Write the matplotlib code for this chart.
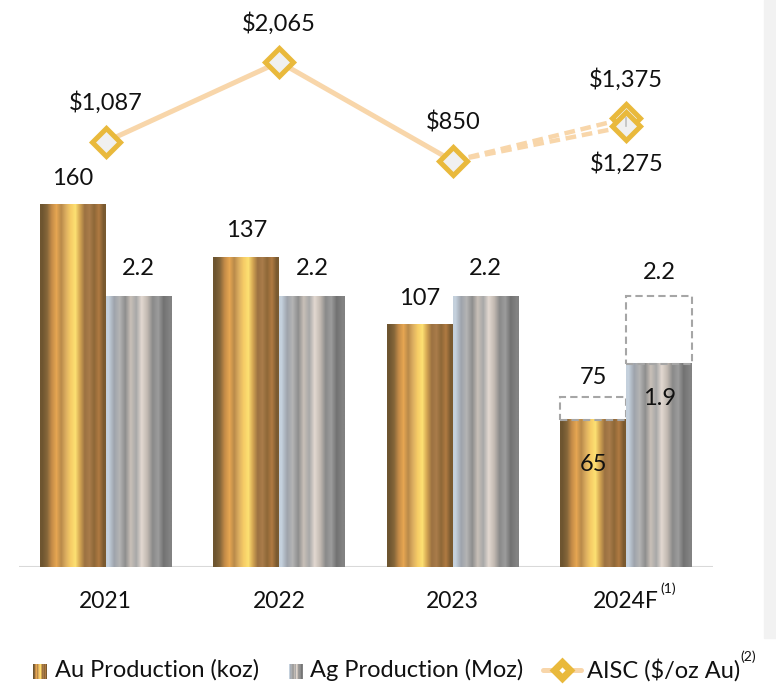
import numpy as np
import matplotlib.pyplot as plt
from matplotlib.colors import to_rgb
from matplotlib.patches import Rectangle
from matplotlib.lines import Line2D

plt.rcParams['font.family'] = ['Lato', 'DejaVu Sans']

# production and cost figures
years = ["2021", "2022", "2023", "2024F"]
au_koz = [160, 137, 107, 65]
au_koz_forecast = 75
ag_moz = [2.2, 2.2, 2.2, 1.9]
ag_moz_forecast = 2.2
aisc = [1087, 2065, 850]
aisc_2024 = [1375, 1275]

# metallic stripe palettes for the bar fills
gold_stripes = ["#6e5530", "#85663a", "#c48c48", "#e6a652", "#b98a4a", "#dcae60",
                "#f6cc66", "#fde072", "#d2a452", "#9c7242", "#a97c4a", "#8e6838",
                "#b07a42", "#7a5a30"]
silver_stripes = ["#c4d0dc", "#9ea4ac", "#b4b4b4", "#8e8e8e", "#c8c0b8", "#a8a8a8",
                  "#e2d8d0", "#c2bab2", "#8a8a8a", "#9c9c9c", "#727272", "#828282"]
line_color = "#f8d6aa"
marker_edge = "#e9b93c"
marker_face = "#f0f0f0"


def stripe_image(colors):
    return np.array([[to_rgb(c) for c in colors]])


gold_img = stripe_image(gold_stripes)
silver_img = stripe_image(silver_stripes)

W, H = 776, 684
fig = plt.figure(figsize=(W / 100, H / 100), dpi=100)
rect = [19 / W, (H - 567) / H, 694 / W, 567 / H]
ax = fig.add_axes(rect)          # gold, koz
ax2 = fig.add_axes(rect, sharex=ax)   # silver, Moz
ax3 = fig.add_axes(rect, sharex=ax)   # AISC
for a in (ax, ax2, ax3):
    a.patch.set_visible(False)
    for s in a.spines.values():
        s.set_visible(False)
    a.set_yticks([])

x = np.arange(len(years))
bw = 0.38

for i, v in enumerate(au_koz):
    ax.imshow(gold_img, extent=[x[i] - bw, x[i], 0, v], aspect='auto',
              interpolation='bilinear', zorder=2)
for i, v in enumerate(ag_moz):
    ax2.imshow(silver_img, extent=[x[i], x[i] + bw, 1.0, v], aspect='auto',
               interpolation='bilinear', zorder=2)

# forecast range boxes for 2024
ax.add_patch(Rectangle((x[3] - bw, au_koz[3]), bw, au_koz_forecast - au_koz[3],
                       fill=False, ec="#a6a6a6", lw=1.5, ls=(0, (3.5, 2)), zorder=3))
ax2.add_patch(Rectangle((x[3], ag_moz[3]), bw, ag_moz_forecast - ag_moz[3],
                        fill=False, ec="#a6a6a6", lw=1.5, ls=(0, (3.5, 2)), zorder=3))

ax.axhline(0, color="#d9d9d9", lw=1.5, zorder=1)

ax.set_xlim(-0.5, 3.5)
ax.set_ylim(0, 250.6)
ax2.set_ylim(1.0, 3.511)
ax3.set_ylim(-4133, 2826)

fs = 17
lab = dict(ha='center', va='center', fontsize=fs, color='#111111',
           textcoords='offset points')
for i, v in enumerate(au_koz[:3]):
    ax.annotate(f"{v}", (x[i] - bw / 2, v), xytext=(0, 19), **lab)
for i, v in enumerate(ag_moz[:3]):
    ax2.annotate(f"{v}", (x[i] + bw / 2, v), xytext=(0, 20), **lab)
ax.annotate(f"{au_koz_forecast}", (x[3] - bw / 2, au_koz_forecast), xytext=(0, 14), **lab)
ax.annotate(f"{au_koz[3]}", (x[3] - bw / 2, au_koz[3]), xytext=(0, -32), **lab)
ax2.annotate(f"{ag_moz_forecast}", (x[3] + bw / 2, ag_moz_forecast), xytext=(0, 17), **lab)
ax2.annotate(f"{ag_moz[3]}", (x[3] + bw / 2, ag_moz[3]), xytext=(0, -25), **lab)

# AISC line with dashed forecast range
mk = dict(marker='D', ms=14, mfc=marker_face, mec=marker_edge, mew=3.6)
ax3.plot(x[:3], aisc, color=line_color, lw=3.6, solid_capstyle='round', zorder=4)
for v in aisc_2024:
    ax3.plot([x[2], x[3]], [aisc[2], v], color=line_color, lw=3.2,
             ls=(0, (2.4, 1.3)), zorder=4)
ax3.plot(x[:3], aisc, ls='none', zorder=5, **mk)
for v in aisc_2024:
    ax3.plot([x[3]], [v], ls='none', zorder=5, **mk)
ax3.plot([x[3], x[3]], aisc_2024, color="#bfbfbf", lw=1.2, zorder=6)

for i, v in enumerate(aisc):
    ax3.annotate(f"${v:,}", (x[i], v), xytext=(0, 28), **lab)
ax3.annotate(f"${aisc_2024[0]:,}", (x[3], aisc_2024[0]), xytext=(0, 28), **lab)
ax3.annotate(f"${aisc_2024[1]:,}", (x[3], aisc_2024[1]), xytext=(0, -27), **lab)

# category labels
for a in (ax2, ax3):
    a.tick_params(axis='x', bottom=False, labelbottom=False)
ax.set_xticks(x)
ax.set_xticklabels(years, fontsize=16.5, color='#111111')
ax.tick_params(axis='x', length=0, pad=17)
fig.text(668 / W, 1 - 589 / H, "(1)", fontsize=10, ha='center', va='center', color='#111111')

# grey strip down the right edge
fig.add_artist(Rectangle((764 / W, 1 - 638 / H), 12 / W, 638 / H,
                         transform=fig.transFigure, color="#f2f2f2", zorder=0))

# legend
lfs = 17
ly = 1 - 670 / H
for x0, img in ((33, gold_img), (289, silver_img)):
    sw = fig.add_axes([x0 / W, (H - 679) / H, 14 / W, 15 / H])
    sw.imshow(img, aspect='auto', interpolation='bilinear')
    sw.axis('off')
fig.text(55 / W, ly, "Au Production (koz)", fontsize=lfs, va='center', color='#111111')
fig.text(310 / W, ly, "Ag Production (Moz)", fontsize=lfs, va='center', color='#111111')
fig.add_artist(Line2D([543 / W, 581 / W], [ly, ly], transform=fig.transFigure,
                      color=line_color, lw=3.6, solid_capstyle='round'))
fig.add_artist(Line2D([562 / W], [ly], transform=fig.transFigure, ls='none',
                      marker='D', ms=8, mfc='white', mec=marker_edge, mew=5,
                      markeredgecolor=marker_edge))
fig.text(587 / W, ly, "AISC ($/oz Au)", fontsize=lfs, va='center', color='#111111')
fig.text(740 / W, 1 - 657 / H, "(2)", fontsize=10, va='center', color='#111111')

fig.savefig("out.png", dpi=100)
